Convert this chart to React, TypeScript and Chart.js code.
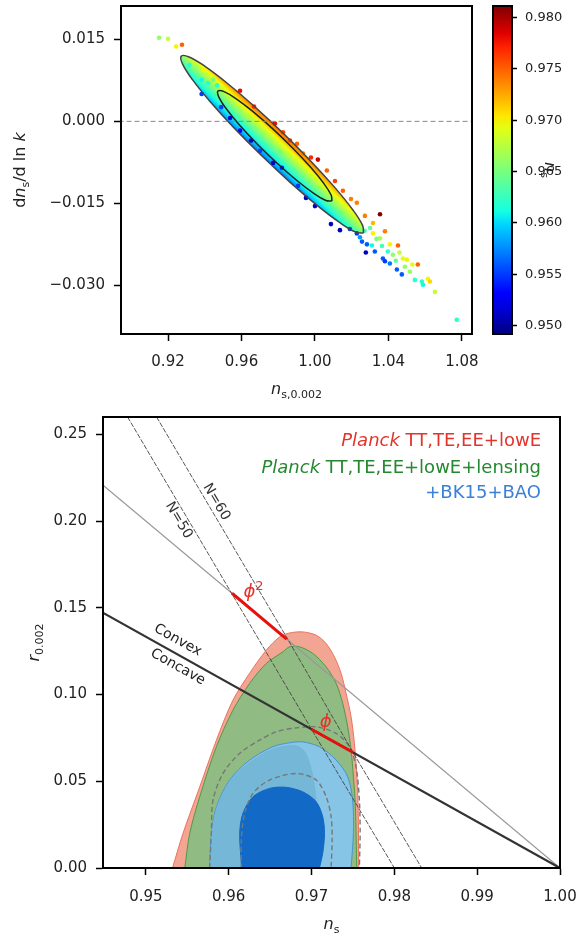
import React, { useEffect, useRef } from 'react';
import { Chart, registerables } from 'chart.js';
Chart.register(...registerables);

const FONT = '"DejaVu Sans", "Liberation Sans", sans-serif';

// ================= TOP PANEL DATA =================
const topXTicks = [0.92, 0.96, 1.0, 1.04, 1.08];
const topXTickLabels = ['0.92', '0.96', '1.00', '1.04', '1.08'];
const topYTicks = [0.015, 0.0, -0.015, -0.03];
const topYTickLabels = ['0.015', '0.000', '\u22120.015', '\u22120.030'];
const cbTicks = [0.95, 0.955, 0.96, 0.965, 0.97, 0.975, 0.98];
const cbTickLabels = ['0.950', '0.955', '0.960', '0.965', '0.970', '0.975', '0.980'];
const CB_MIN = 0.9492;
const CB_MAX = 0.9811;

const zeroLine: number[][] = [[0.88, 0], [1.1, 0]];

// 95% contour (ns, dn/dlnk)
const outerContour: number[][] = [
  [1.02649, -0.02042], [1.02226, -0.02027], [1.01358, -0.01854], [1.00131, -0.01542],
  [0.98664, -0.0112], [0.97103, -0.0063], [0.95597, -0.00121], [0.94297, 0.0036],
  [0.93329, 0.00763], [0.92787, 0.01051], [0.92725, 0.01193], [0.93148, 0.01178],
  [0.94016, 0.01006], [0.95243, 0.00693], [0.9671, 0.00272], [0.98272, -0.00218],
  [0.99777, -0.00728], [1.01077, -0.01208], [1.02045, -0.01612], [1.02587, -0.01899],
  [1.02649, -0.02042],
];
// 68% contour
const innerContour: number[][] = [
  [1.00925, -0.01458], [1.00596, -0.01448], [0.99933, -0.01317], [0.99016, -0.01082],
  [0.97955, -0.00771], [0.96877, -0.00422], [0.95914, -0.00076], [0.95181, 0.00225],
  [0.94767, 0.00443], [0.94721, 0.00554], [0.9505, 0.00544], [0.95713, 0.00413],
  [0.9663, 0.00178], [0.97691, -0.00133], [0.98769, -0.00482], [0.99732, -0.00828],
  [1.00465, -0.01129], [1.00879, -0.01347], [1.00925, -0.01458],
];

// MCMC samples: [ns_0.002, dn/dlnk, ns (colour)]
const samples: number[][] = [
  [0.9151, 0.0153, 0.966], [0.92, 0.0151, 0.968], [0.9244, 0.0137, 0.97], [0.9276, 0.014, 0.975],
  [0.9383, 0.005, 0.955], [0.9315, 0.0103, 0.962], [0.9347, 0.0098, 0.966], [0.9391, 0.0094, 0.97],
  [0.9383, 0.0076, 0.961], [0.9418, 0.007, 0.962], [0.9445, 0.0076, 0.965], [0.9467, 0.0066, 0.962],
  [0.9592, 0.0056, 0.978], [0.9668, 0.0027, 0.977], [0.9782, -0.0004, 0.978], [0.9826, -0.002, 0.976],
  [0.9864, -0.0035, 0.976], [0.9902, -0.0041, 0.975], [0.9935, -0.0059, 0.974], [0.9978, -0.0066, 0.977],
  [1.0016, -0.007, 0.979], [1.0065, -0.009, 0.975], [1.0109, -0.0109, 0.976], [1.0152, -0.0127, 0.975],
  [1.0196, -0.0142, 0.974], [1.0228, -0.0149, 0.974], [1.0272, -0.0173, 0.974], [1.0354, -0.017, 0.981],
  [1.0316, -0.0186, 0.972], [1.0381, -0.0201, 0.974], [1.0408, -0.0225, 0.97], [1.0452, -0.0227, 0.975],
  [1.0354, -0.0214, 0.967], [1.0316, -0.0205, 0.97], [1.0397, -0.0238, 0.962], [1.0424, -0.0244, 0.966],
  [1.0479, -0.0251, 0.969], [1.05, -0.0253, 0.97], [1.049, -0.0266, 0.966], [1.056, -0.0262, 0.975],
  [1.0517, -0.0275, 0.966], [1.0544, -0.029, 0.962], [1.0582, -0.0293, 0.962], [1.0615, -0.0288, 0.97],
  [1.0626, -0.0293, 0.971], [1.0588, -0.0299, 0.961], [1.0653, -0.0312, 0.968], [1.0772, -0.0363, 0.962],
  [0.9538, 0.0006, 0.952], [0.9652, -0.0035, 0.951], [0.9772, -0.0076, 0.951], [0.982, -0.0085, 0.954],
  [0.9908, -0.0118, 0.955], [0.9951, -0.014, 0.951], [1.0, -0.0155, 0.951], [1.0087, -0.0188, 0.951],
  [1.0136, -0.0199, 0.951], [1.019, -0.0197, 0.955], [1.0228, -0.0205, 0.955], [1.0256, -0.022, 0.956],
  [1.0283, -0.0225, 0.956], [1.0277, -0.024, 0.951], [1.0326, -0.0238, 0.956], [1.037, -0.0251, 0.956],
  [1.0381, -0.0256, 0.955], [1.0408, -0.026, 0.957], [1.0446, -0.0271, 0.956], [1.0473, -0.028, 0.956],
  [0.9701, -0.0054, 0.955], [0.9592, -0.0017, 0.953], [0.9489, 0.0026, 0.955], [1.031, -0.0227, 0.961],
  [1.0245, -0.0212, 0.958], [1.03, -0.0195, 0.964], [1.0335, -0.0215, 0.965], [1.0365, -0.0228, 0.963],
  [1.044, -0.0255, 0.964], [1.046, -0.024, 0.968], [1.053, -0.0262, 0.969], [1.027, -0.02, 0.963],
];
// ns values across the dense cloud, from its lower-left edge to its upper-right edge
const cloudProfile = [0.957, 0.9595, 0.9615, 0.9635, 0.9655, 0.9675, 0.9695, 0.972, 0.9745];

// ================= BOTTOM PANEL DATA =================
const botXTicks = [0.95, 0.96, 0.97, 0.98, 0.99, 1.0];
const botXTickLabels = ['0.95', '0.96', '0.97', '0.98', '0.99', '1.00'];
const botYTicks = [0.0, 0.05, 0.1, 0.15, 0.2, 0.25];
const botYTickLabels = ['0.00', '0.05', '0.10', '0.15', '0.20', '0.25'];

const redOuter: number[][] = [
  [0.95322, 0], [0.95449, 0.02], [0.95651, 0.0468], [0.95852, 0.0737], [0.96052, 0.0968],
  [0.96253, 0.1123], [0.96454, 0.1256], [0.96614, 0.1332], [0.96735, 0.1355], [0.96895, 0.1361],
  [0.97057, 0.1342], [0.97177, 0.1294], [0.97277, 0.1217], [0.97358, 0.1121], [0.97418, 0.1006],
  [0.97478, 0.0871], [0.97518, 0.0718], [0.97546, 0.0545], [0.97563, 0.0353], [0.9757, 0],
];
const greenOuter: number[][] = [
  [0.9547, 0], [0.9553, 0.02], [0.95651, 0.0411], [0.95852, 0.0699], [0.96052, 0.091],
  [0.96253, 0.1064], [0.96454, 0.1179], [0.96654, 0.1246], [0.96735, 0.1275], [0.96855, 0.1275],
  [0.97016, 0.1237], [0.97177, 0.1159], [0.97298, 0.1064], [0.97377, 0.0949], [0.97437, 0.0814],
  [0.97478, 0.068], [0.97506, 0.0526], [0.9753, 0.0353], [0.97546, 0],
];
const dashedOuter: number[][] = [
  [0.95771, 0], [0.95792, 0.0219], [0.95811, 0.0392], [0.95931, 0.0545], [0.96133, 0.0661],
  [0.96373, 0.0737], [0.96575, 0.0785], [0.96775, 0.0805], [0.97057, 0.0814], [0.97298, 0.0776],
  [0.97458, 0.0699], [0.97538, 0.0583], [0.97578, 0.0392], [0.97587, 0.02], [0.97578, 0],
];
const dashedInner: number[][] = [
  [0.96153, 0], [0.96153, 0.0161], [0.96193, 0.0315], [0.96293, 0.043], [0.96494, 0.0507],
  [0.96816, 0.0545], [0.97057, 0.0507], [0.97177, 0.0411], [0.97237, 0.0295], [0.97249, 0.0161],
  [0.97237, 0],
];
const blueOuter: number[][] = [
  [0.95771, 0], [0.95792, 0.02], [0.95852, 0.0353], [0.96012, 0.0507], [0.96253, 0.0622],
  [0.96534, 0.0699], [0.96735, 0.0722], [0.96895, 0.0727], [0.97096, 0.0699], [0.97298, 0.0622],
  [0.97437, 0.0526], [0.97497, 0.0392], [0.97506, 0.02], [0.97478, 0],
];
const blueMid: number[][] = [
  [0.95783, 0], [0.95795, 0.0202], [0.95855, 0.0351], [0.96012, 0.0501], [0.96253, 0.0611],
  [0.96518, 0.0685], [0.96807, 0.0708], [0.96928, 0.0668], [0.97012, 0.0553], [0.9706, 0.0392],
  [0.97072, 0.0202], [0.97072, 0],
];
const blueInner: number[][] = [
  [0.96157, 0], [0.96133, 0.02], [0.96172, 0.0315], [0.96293, 0.0411], [0.96494, 0.0459],
  [0.96695, 0.0465], [0.96895, 0.0439], [0.97057, 0.0382], [0.97136, 0.0295], [0.97157, 0.02],
  [0.97136, 0.0085], [0.97096, 0],
];
const phi2Line: number[][] = [[0.9448, 0.2208], [1.0, 0]];
const convexLine: number[][] = [[0.9448, 0.1472], [1.0, 0]];
const n50Line: number[][] = [[0.9478, 0.26], [0.9604, 0.158], [0.97, 0.08], [0.98, 0]];
const n60Line: number[][] = [[0.9513, 0.26], [0.967, 0.133], [0.975, 0.0667], [0.9833, 0]];
const phi2Seg: number[][] = [[0.9604, 0.1584], [0.967, 0.132]];
const phiSeg: number[][] = [[0.97, 0.08], [0.975, 0.0667]];

// label anchors (data coordinates)
const labelN50 = [0.95398, 0.2004];
const labelN60 = [0.95852, 0.211];
const labelConvex = [0.95386, 0.1313];
const labelConcave = [0.95386, 0.1158];
const labelPhi2 = [0.963, 0.159];
const labelPhi = [0.97171, 0.0841];

// ================= helpers =================
function jet(t: number): string {
  t = Math.max(0, Math.min(1, t));
  const f = (pts: number[][]) => {
    for (let i = 1; i < pts.length; i++) {
      if (t <= pts[i][0]) {
        const [x0, y0] = pts[i - 1];
        const [x1, y1] = pts[i];
        return y0 + ((y1 - y0) * (t - x0)) / (x1 - x0);
      }
    }
    return pts[pts.length - 1][1];
  };
  const r = f([[0, 0], [0.35, 0], [0.66, 1], [0.89, 1], [1, 0.5]]);
  const g = f([[0, 0], [0.125, 0], [0.375, 1], [0.64, 1], [0.91, 0], [1, 0]]);
  const b = f([[0, 0.5], [0.11, 1], [0.34, 1], [0.65, 0], [1, 0]]);
  return `rgb(${Math.round(r * 255)},${Math.round(g * 255)},${Math.round(b * 255)})`;
}
const cbNorm = (v: number) => (v - CB_MIN) / (CB_MAX - CB_MIN);

type Seg = { t: string; it?: boolean; sub?: boolean; sup?: boolean; c?: string };
function drawRich(ctx: any, segs: Seg[], x: number, y: number, size: number, o: any = {}) {
  ctx.save();
  ctx.translate(x, y);
  ctx.rotate(o.rot || 0);
  const fontFor = (s: Seg) =>
    `${s.it ? 'italic ' : ''}${s.sub || s.sup ? Math.round(size * 0.7) : size}px ${FONT}`;
  let w = 0;
  for (const s of segs) {
    ctx.font = fontFor(s);
    w += ctx.measureText(s.t).width;
  }
  let cx = o.align === 'right' ? -w : o.align === 'left' ? 0 : -w / 2;
  ctx.textBaseline = 'middle';
  ctx.textAlign = 'left';
  for (const s of segs) {
    ctx.font = fontFor(s);
    ctx.fillStyle = s.c || o.color || '#222';
    const dy = s.sub ? size * 0.3 : s.sup ? -size * 0.3 : 0;
    ctx.fillText(s.t, cx, dy);
    cx += ctx.measureText(s.t).width;
  }
  ctx.restore();
}

const framePlugin = {
  id: 'frame',
  afterDatasetsDraw(chart: any) {
    const { ctx, chartArea: a } = chart;
    ctx.save();
    ctx.strokeStyle = '#000';
    ctx.lineWidth = 2;
    ctx.strokeRect(a.left, a.top, a.right - a.left, a.bottom - a.top);
    ctx.restore();
  },
};

function axis(ticksArr: number[], labels: string[], min: number, max: number, fontSize: number, tickLen: number, pad: number, size: number, extra: any = {}) {
  return {
    type: 'linear',
    min,
    max,
    afterBuildTicks: (s: any) => {
      s.ticks = ticksArr.map((v) => ({ value: v }));
    },
    afterFit: (s: any) => {
      if (s.isHorizontal()) s.height = size;
      else s.width = size;
      s.paddingTop = 0;
      s.paddingBottom = 0;
      s.paddingLeft = 0;
      s.paddingRight = 0;
    },
    ticks: {
      font: { family: FONT, size: fontSize },
      color: '#222',
      padding: pad,
      autoSkip: false,
      maxRotation: 0,
      minRotation: 0,
      callback: (_v: any, i: number) => labels[i],
    },
    grid: { display: true, drawOnChartArea: false, drawTicks: true, tickLength: tickLen, tickWidth: 1.5, tickColor: '#000', color: '#000' },
    border: { display: true, color: '#000', width: 2 },
    ...extra,
  };
}

const pts = (arr: number[][]) => arr.map(([x, y]) => ({ x, y }));

// ================= charts =================
const CLOUD_HALF = 15;

function makeTop(canvas: HTMLCanvasElement) {
  const cloudFill = (c: any) => {
    const chart = c.chart;
    const xs = chart.scales.x;
    const ys = chart.scales.y;
    if (!xs || !ys || !chart.chartArea) return 'rgba(0,220,200,1)';
    const a = outerContour[10];
    const b = outerContour[0];
    const ax = xs.getPixelForValue(a[0]);
    const ay = ys.getPixelForValue(a[1]);
    const bx = xs.getPixelForValue(b[0]);
    const by = ys.getPixelForValue(b[1]);
    const cx = (ax + bx) / 2;
    const cy = (ay + by) / 2;
    let dx = bx - ax;
    let dy = by - ay;
    const L = Math.hypot(dx, dy) || 1;
    dx /= L;
    dy /= L;
    const nx = dy;
    const ny = -dx;
    const g = chart.ctx.createLinearGradient(cx - nx * CLOUD_HALF, cy - ny * CLOUD_HALF, cx + nx * CLOUD_HALF, cy + ny * CLOUD_HALF);
    const n = cloudProfile.length - 1;
    cloudProfile.forEach((v, i) => g.addColorStop(i / n, jet(cbNorm(v))));
    return g;
  };

  const titles = {
    id: 'topTitles',
    afterDraw(chart: any) {
      const { ctx, chartArea: a } = chart;
      drawRich(ctx, [{ t: 'n', it: true }, { t: 's,0.002', sub: true }], (a.left + a.right) / 2, a.bottom + 56, 16);
      drawRich(
        ctx,
        [{ t: 'd' }, { t: 'n', it: true }, { t: 's', sub: true }, { t: '/d ln ' }, { t: 'k', it: true }],
        21,
        (a.top + a.bottom) / 2,
        16,
        { rot: -Math.PI / 2 }
      );
    },
  };

  return new Chart(canvas, {
    type: 'line',
    data: {
      datasets: [
        { data: pts(zeroLine), borderColor: '#888', borderWidth: 1, borderDash: [5, 3], pointRadius: 0, fill: false, order: 0 },
        { data: pts(innerContour), borderColor: '#222', borderWidth: 1.5, pointRadius: 0, tension: 0.4, fill: false, order: 1 },
        { data: pts(outerContour), borderColor: '#444', borderWidth: 1.5, pointRadius: 0, tension: 0.4, fill: false, order: 2 },
        {
          data: samples.map(([x, y]) => ({ x, y })),
          showLine: false,
          pointRadius: 2.3,
          pointBorderWidth: 0,
          pointBackgroundColor: samples.map((s) => jet(cbNorm(s[2]))),
          order: 3,
        },
        {
          data: pts(outerContour),
          borderWidth: 0,
          borderColor: 'rgba(0,0,0,0)',
          backgroundColor: cloudFill,
          fill: 'shape',
          pointRadius: 0,
          tension: 0.4,
          order: 4,
        },
      ] as any,
    },
    options: {
      animation: false,
      responsive: false,
      devicePixelRatio: 1,
      layout: { padding: { left: 0, right: 113, top: 6, bottom: 0 } },
      plugins: { legend: { display: false }, tooltip: { enabled: false } },
      scales: {
        x: axis(topXTicks, topXTickLabels, 0.8944, 1.0855, 15, 7, 12, 71),
        y: axis(topYTicks, topYTickLabels, -0.0389, 0.0211, 15, 7, 9, 121),
      } as any,
    },
    plugins: [framePlugin, titles],
  } as any);
}

function makeCbar(canvas: HTMLCanvasElement) {
  const fill = (c: any) => {
    const chart = c.chart;
    const ys = chart.scales.y;
    if (!ys || !chart.chartArea) return '#0f0';
    const g = chart.ctx.createLinearGradient(0, ys.getPixelForValue(CB_MIN), 0, ys.getPixelForValue(CB_MAX));
    for (let i = 0; i <= 24; i++) g.addColorStop(i / 24, jet(i / 24));
    return g;
  };
  const label = {
    id: 'cbLabel',
    afterDraw(chart: any) {
      const { ctx, chartArea: a } = chart;
      drawRich(ctx, [{ t: 'n', it: true }, { t: 's', sub: true }], 549, (a.top + a.bottom) / 2, 16, { rot: Math.PI / 2 });
    },
  };
  return new Chart(canvas, {
    type: 'bar',
    data: {
      labels: [''],
      datasets: [
        { data: [[CB_MIN, CB_MAX]], backgroundColor: fill, borderWidth: 0, barPercentage: 1, categoryPercentage: 1 },
      ] as any,
    },
    options: {
      animation: false,
      responsive: false,
      devicePixelRatio: 1,
      layout: { padding: { left: 493, right: 23, top: 6, bottom: 71 } },
      plugins: { legend: { display: false }, tooltip: { enabled: false } },
      scales: {
        x: { display: false },
        y: axis(cbTicks, cbTickLabels, CB_MIN, CB_MAX, 13, 5, 8, 50, { position: 'right' }),
      } as any,
    },
    plugins: [framePlugin, label],
  } as any);
}

function makeBottom(canvas: HTMLCanvasElement) {
  const poly = (arr: number[][], fillColor: string | null, stroke: string, width: number, dash: number[] = [], tension = 0.3) => ({
    data: pts(arr),
    borderColor: stroke,
    borderWidth: width,
    borderDash: dash,
    backgroundColor: fillColor || 'rgba(0,0,0,0)',
    fill: fillColor ? 'shape' : false,
    pointRadius: 0,
    tension,
  });
  const layers = [
    poly(redOuter, '#f2a592', '#e8735f', 1),
    poly(greenOuter, '#90bb82', '#4f9a45', 1),
    poly(blueOuter, '#86c5e6', '#4a93d3', 1),
    poly(blueMid, '#74b7d6', 'rgba(0,0,0,0)', 0),
    poly(blueInner, '#1269c6', '#1269c6', 1),
    poly(dashedOuter, null, '#777', 1.4, [5, 3]),
    poly(dashedInner, null, '#777', 1.4, [5, 3]),
    poly(phi2Line, null, '#999', 1.3, [], 0),
    poly(n50Line, null, '#444', 0.9, [5, 1.5], 0),
    poly(n60Line, null, '#444', 0.9, [5, 1.5], 0),
    poly(convexLine, null, '#333', 2.3, [], 0),
    poly(phi2Seg, null, '#e8100c', 3, [], 0),
    poly(phiSeg, null, '#e8100c', 3, [], 0),
  ];
  const datasets = layers.map((d, i) => ({ ...d, order: layers.length - i }));

  const annotations = {
    id: 'botText',
    afterDraw(chart: any) {
      const { ctx, chartArea: a, scales } = chart;
      const xs = scales.x;
      const ys = scales.y;
      const P = (p: number[]) => [xs.getPixelForValue(p[0]), ys.getPixelForValue(p[1])];
      const ang = (line: number[][]) => {
        const p0 = P(line[0]);
        const p1 = P(line[line.length - 1]);
        return Math.atan2(p1[1] - p0[1], p1[0] - p0[0]);
      };
      let p = P(labelN50);
      drawRich(ctx, [{ t: 'N=50' }], p[0], p[1], 14, { rot: ang(n50Line), color: '#333' });
      p = P(labelN60);
      drawRich(ctx, [{ t: 'N=60' }], p[0], p[1], 14, { rot: ang(n60Line), color: '#333' });
      p = P(labelConvex);
      drawRich(ctx, [{ t: 'Convex' }], p[0], p[1], 14, { rot: ang(convexLine), color: '#222' });
      p = P(labelConcave);
      drawRich(ctx, [{ t: 'Concave' }], p[0], p[1], 14, { rot: ang(convexLine), color: '#222' });
      p = P(labelPhi2);
      drawRich(ctx, [{ t: '\u03d5', it: true }, { t: '2', sup: true }], p[0], p[1], 18, { color: '#e8302a' });
      p = P(labelPhi);
      drawRich(ctx, [{ t: '\u03d5', it: true }], p[0], p[1], 18, { color: '#e8302a' });

      // legend
      const red = '#e3332a';
      const green = '#24882f';
      const blue = '#3a80d8';
      const rx = a.right - 19;
      drawRich(ctx, [{ t: 'Planck', it: true, c: red }, { t: ' TT,TE,EE+lowE', c: red }], rx, a.top + 24, 18, { align: 'right' });
      drawRich(ctx, [{ t: 'Planck', it: true, c: green }, { t: ' TT,TE,EE+lowE+lensing', c: green }], rx, a.top + 51, 18, { align: 'right' });
      drawRich(ctx, [{ t: '+BK15+BAO', c: blue }], rx, a.top + 76, 18, { align: 'right' });

      // axis titles
      drawRich(ctx, [{ t: 'n', it: true }, { t: 's', sub: true }], (a.left + a.right) / 2, a.bottom + 57, 16);
      drawRich(ctx, [{ t: 'r', it: true }, { t: '0.002', sub: true }], 35, (a.top + a.bottom) / 2, 16, { rot: -Math.PI / 2 });
    },
  };

  return new Chart(canvas, {
    type: 'line',
    data: { datasets: datasets as any },
    options: {
      animation: false,
      responsive: false,
      devicePixelRatio: 1,
      layout: { padding: { left: 0, right: 25, top: 12, bottom: 0 } },
      plugins: { legend: { display: false }, tooltip: { enabled: false } },
      scales: {
        x: axis(botXTicks, botXTickLabels, 0.94483, 1.0, 15, 7, 13, 69),
        y: axis(botYTicks, botYTickLabels, 0, 0.26, 15, 7, 9, 103),
      } as any,
    },
    plugins: [framePlugin, annotations],
  } as any);
}

export default function App() {
  const topRef = useRef<HTMLCanvasElement>(null);
  const cbRef = useRef<HTMLCanvasElement>(null);
  const botRef = useRef<HTMLCanvasElement>(null);
  useEffect(() => {
    const charts: any[] = [];
    if (topRef.current) charts.push(makeTop(topRef.current));
    if (cbRef.current) charts.push(makeCbar(cbRef.current));
    if (botRef.current) charts.push(makeBottom(botRef.current));
    return () => charts.forEach((c) => c.destroy());
  }, []);
  const abs = (top: number, h: number) => ({ position: 'absolute' as const, left: 0, top, width: 585, height: h });
  return (
    <div style={{ position: 'absolute', left: 0, top: 0, width: 585, height: 937, background: '#fff', overflow: 'hidden' }}>
      <canvas ref={topRef} width={585} height={405} style={abs(0, 405)} />
      <canvas ref={cbRef} width={585} height={405} style={abs(0, 405)} />
      <canvas ref={botRef} width={585} height={532} style={abs(405, 532)} />
    </div>
  );
}
